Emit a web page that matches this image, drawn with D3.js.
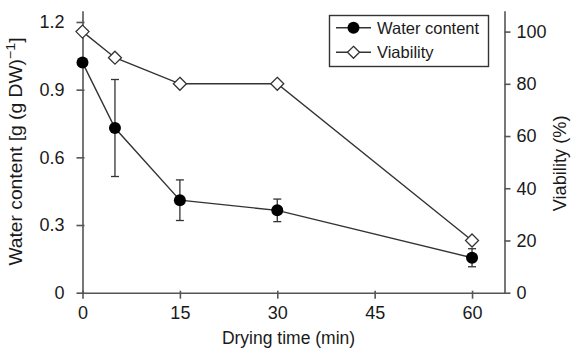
<!DOCTYPE html>
<html><head><meta charset="utf-8">
<script src="https://cdn.jsdelivr.net/npm/d3@7"></script>
<style>body{margin:0;background:#fff}text{font-family:"Liberation Sans",Arial,sans-serif}</style>
</head><body>
<svg id="c" width="572" height="352"></svg>
<script>
const times = [0, 5, 15, 30, 60];
const waterContent = [1.02, 0.73, 0.41, 0.365, 0.155];
const waterErr = [0, 0.215, 0.09, 0.05, 0.04];
const viability = [100, 90, 80, 80, 20];
const xTicks = [0, 15, 30, 45, 60];
const yLeftTicks = [0, 0.3, 0.6, 0.9, 1.2];
const yRightTicks = [0, 20, 40, 60, 80, 100];

const svg = d3.select("#c");
const L = 82.5, R = 504.5, T = 10.7, B = 292.7;
const x = d3.scaleLinear().domain([0, 65]).range([L, R]);
const yL = d3.scaleLinear().domain([0, 1.25]).range([B, T]);
const yR = d3.scaleLinear().domain([0, 108]).range([B, T]);
const axisColor = "#555", lineColor = "#333", textColor = "#1a1a1a";
const FS = 18;

function styleAxis(g){
  g.selectAll("path,line").attr("stroke", axisColor).attr("stroke-width", 1.6);
  g.selectAll("text").attr("font-size", FS).attr("fill", textColor).attr("font-family", "'Liberation Sans',Arial,sans-serif");
}
const gx = svg.append("g").attr("transform", `translate(0,${B})`)
  .call(d3.axisBottom(x).tickValues(xTicks).tickSize(6).tickSizeOuter(0).tickPadding(8));
styleAxis(gx);
gx.selectAll(".tick line").attr("y1", -2);
const gl = svg.append("g").attr("transform", `translate(${L},0)`)
  .call(d3.axisLeft(yL).tickValues(yLeftTicks).tickSize(6).tickSizeOuter(0).tickPadding(12).tickFormat(d => d === 0 ? "0" : d3.format(".1f")(d)));
styleAxis(gl);
gl.selectAll(".tick line").attr("x1", 2);
const gr = svg.append("g").attr("transform", `translate(${R},0)`)
  .call(d3.axisRight(yR).tickValues(yRightTicks).tickSize(6).tickSizeOuter(0).tickPadding(6));
styleAxis(gr);

// titles
svg.append("text").attr("x", 288.5).attr("y", 343.5).attr("text-anchor", "middle").attr("font-size", 17.5).attr("fill", textColor).text("Drying time (min)");
const lt = svg.append("text").attr("transform", "translate(22,151.5) rotate(-90) scale(1.1,1)").attr("text-anchor", "middle").attr("font-size", 17.5).attr("fill", textColor);
lt.append("tspan").text("Water content [g (g DW)");
lt.append("tspan").attr("dy", -7).attr("font-size", 13).text("−1");
lt.append("tspan").attr("dy", 7).text("]");
svg.append("text").attr("transform", "translate(566,163.4) rotate(-90) scale(1.04,1)").attr("text-anchor", "middle").attr("font-size", 17.5).attr("fill", textColor).text("Viability (%)");

const wData = times.map((t, i) => ({t, v: waterContent[i], e: waterErr[i]}));
const vData = times.map((t, i) => ({t, v: viability[i]}));

// lines
svg.append("path").datum(vData).attr("fill", "none").attr("stroke", lineColor).attr("stroke-width", 1.4)
  .attr("d", d3.line().x(d => x(d.t)).y(d => yR(d.v)));
svg.append("path").datum(wData).attr("fill", "none").attr("stroke", lineColor).attr("stroke-width", 1.4)
  .attr("d", d3.line().x(d => x(d.t)).y(d => yL(d.v)));

// error bars
const eb = svg.append("g").attr("stroke", lineColor).attr("stroke-width", 1.3);
wData.filter(d => d.e > 0).forEach(d => {
  const cx = x(d.t);
  eb.append("line").attr("x1", cx).attr("x2", cx).attr("y1", yL(d.v - d.e)).attr("y2", yL(d.v + d.e));
  eb.append("line").attr("x1", cx - 4).attr("x2", cx + 4).attr("y1", yL(d.v - d.e)).attr("y2", yL(d.v - d.e));
  eb.append("line").attr("x1", cx - 4).attr("x2", cx + 4).attr("y1", yL(d.v + d.e)).attr("y2", yL(d.v + d.e));
});

const diamond = (cx, cy, r) => `M${cx},${cy - r}L${cx + r},${cy}L${cx},${cy + r}L${cx - r},${cy}Z`;
svg.append("g").selectAll("circle").data(wData).join("circle")
  .attr("cx", d => x(d.t)).attr("cy", d => yL(d.v)).attr("r", 6).attr("fill", "#000");
svg.append("g").selectAll("path").data(vData).join("path")
  .attr("d", d => diamond(x(d.t), yR(d.v), 6.5)).attr("fill", "#fff").attr("stroke", lineColor).attr("stroke-width", 1.3);

// legend
const lg = svg.append("g");
lg.append("rect").attr("x", 329.5).attr("y", 15.5).attr("width", 159).attr("height", 51).attr("fill", "#fff").attr("stroke", "#333").attr("stroke-width", 1.4);
const items = [{name: "Water content", y: 27.7, type: "c"}, {name: "Viability", y: 52.3, type: "d"}];
items.forEach(it => {
  lg.append("line").attr("x1", 336).attr("x2", 371).attr("y1", it.y).attr("y2", it.y).attr("stroke", lineColor).attr("stroke-width", 1.4);
  if (it.type === "c") lg.append("circle").attr("cx", 353.5).attr("cy", it.y).attr("r", 6).attr("fill", "#000");
  else lg.append("path").attr("d", diamond(353.5, it.y, 6)).attr("fill", "#fff").attr("stroke", lineColor).attr("stroke-width", 1.3);
  lg.append("text").attr("x", 377).attr("y", it.y + 6).attr("font-size", 16.5).attr("fill", textColor).text(it.name);
});
</script>
</body></html>
